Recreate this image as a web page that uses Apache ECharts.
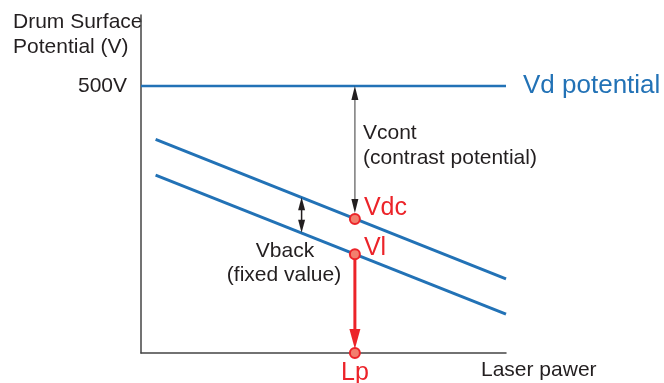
<!DOCTYPE html>
<html>
<head>
<meta charset="utf-8">
<script src="https://cdn.jsdelivr.net/npm/echarts@6/dist/echarts.min.js"></script>
<style>html,body{margin:0;padding:0;background:#fff}#c{width:664px;height:383px}</style>
</head>
<body>
<div id="c"></div>
<script>
// ---- data ----
const xRange = [0, 100];
const yRange = [0, 633];
const yTickValues = [500];
const vdLine = [[0, 500], [100, 500]];
const upperLine = [[4, 400], [100, 139]];
const lowerLine = [[4, 333], [100, 73]];
const markPoints = [
  { name: 'Vdc', value: [58.6, 251] },
  { name: 'Vl', value: [58.6, 185] },
  { name: 'Lp', value: [58.6, 0] }
];
const vcontArrow = [[58.6, 500, 262]];
const vbackArrow = [[44, 291.7, 225]];
const laserArrow = [[58.6, 185, 7.5]];

// ---- styles ----
const FONT = 'Liberation Sans, Arial, sans-serif';
const BLUE = '#2272b6';
const RED = '#ec2329';
const BLACK = '#231f20';

function arrowRenderer(lineColor, headColor, lineWidth, headW, headL, both) {
  return function (params, api) {
    const x = api.value(0);
    const p1 = api.coord([x, api.value(1)]);
    const p2 = api.coord([x, api.value(2)]);
    const px = p1[0];
    const children = [{
      type: 'line',
      shape: { x1: px, y1: both ? p1[1] + headL - 1 : p1[1], x2: px, y2: p2[1] - headL + 1 },
      style: { stroke: lineColor, lineWidth: lineWidth }
    }, {
      type: 'polygon',
      shape: { points: [[px, p2[1]], [px - headW / 2, p2[1] - headL], [px + headW / 2, p2[1] - headL]] },
      style: { fill: headColor }
    }];
    if (both) {
      children.push({
        type: 'polygon',
        shape: { points: [[px, p1[1]], [px - headW / 2, p1[1] + headL], [px + headW / 2, p1[1] + headL]] },
        style: { fill: headColor }
      });
    }
    return { type: 'group', children: children };
  };
}

const labelOffsets = { Vdc: [0, -11], Vl: [0, -6], Lp: [0, 0] };

const chart = echarts.init(document.getElementById('c'), null, { renderer: 'canvas' });
chart.setOption({
  animation: false,
  backgroundColor: '#fff',
  grid: { left: 141, right: 158, top: 15, bottom: 30 },
  xAxis: {
    type: 'value', min: xRange[0], max: xRange[1],
    axisLine: { show: true, lineStyle: { color: '#444', width: 1.5 } },
    axisTick: { show: false }, axisLabel: { show: false }, splitLine: { show: false }
  },
  yAxis: {
    type: 'value', min: yRange[0], max: yRange[1],
    axisLine: { show: true, lineStyle: { color: '#444', width: 1.5 } },
    axisTick: { show: false }, splitLine: { show: false },
    axisLabel: {
      show: true, customValues: yTickValues, formatter: '{value}V',
      fontSize: 21, fontFamily: FONT, color: BLACK, margin: 14
    }
  },
  graphic: [
    { type: 'text', x: 13, y: 22, style: { text: 'Drum Surface', fill: BLACK, fontSize: 21, fontFamily: FONT, verticalAlign: 'middle', align: 'left' } },
    { type: 'text', x: 13, y: 47, style: { text: 'Potential (V)', fill: BLACK, fontSize: 21, fontFamily: FONT, verticalAlign: 'middle', align: 'left' } },
    { type: 'text', x: 481, y: 370, style: { text: 'Laser pawer', fill: BLACK, fontSize: 21, fontFamily: FONT, verticalAlign: 'middle', align: 'left' } },
    { type: 'text', x: 363, y: 133, style: { text: 'Vcont', fill: BLACK, fontSize: 21, fontFamily: FONT, verticalAlign: 'middle', align: 'left' } },
    { type: 'text', x: 363, y: 158, style: { text: '(contrast potential)', fill: BLACK, fontSize: 21, fontFamily: FONT, verticalAlign: 'middle', align: 'left' } },
    { type: 'text', x: 285, y: 251, style: { text: 'Vback', fill: BLACK, fontSize: 21, fontFamily: FONT, verticalAlign: 'middle', align: 'center' } },
    { type: 'text', x: 284, y: 275, style: { text: '(fixed value)', fill: BLACK, fontSize: 21, fontFamily: FONT, verticalAlign: 'middle', align: 'center' } }
  ],
  series: [
    {
      type: 'line', data: vdLine, symbol: 'none', z: 2,
      lineStyle: { color: BLUE, width: 2.5 },
      endLabel: { show: true, formatter: 'Vd potential', color: BLUE, fontSize: 26, fontFamily: FONT, distance: 17 }
    },
    { type: 'line', data: upperLine, symbol: 'none', z: 2, lineStyle: { color: BLUE, width: 3 } },
    { type: 'line', data: lowerLine, symbol: 'none', z: 2, lineStyle: { color: BLUE, width: 3 } },
    { type: 'custom', data: vcontArrow, z: 3, renderItem: arrowRenderer('#7a7a7a', BLACK, 1.5, 7, 14, true) },
    { type: 'custom', data: vbackArrow, z: 3, renderItem: arrowRenderer(BLACK, BLACK, 1.5, 7, 13, true) },
    { type: 'custom', data: laserArrow, z: 3, renderItem: arrowRenderer(RED, RED, 3, 11, 20, false) },
    {
      type: 'scatter', z: 5, symbol: 'circle', symbolSize: 10,
      itemStyle: { color: '#f27f6e', borderColor: RED, borderWidth: 2, opacity: 1 },
      data: markPoints.map(p => ({
        name: p.name, value: p.value,
        label: {
          show: true, formatter: '{b}', color: RED, fontSize: 25, fontFamily: FONT,
          position: p.name === 'Lp' ? 'bottom' : 'right',
          distance: p.name === 'Lp' ? 2 : 3,
          offset: labelOffsets[p.name]
        }
      }))
    }
  ]
});
</script>
</body>
</html>
